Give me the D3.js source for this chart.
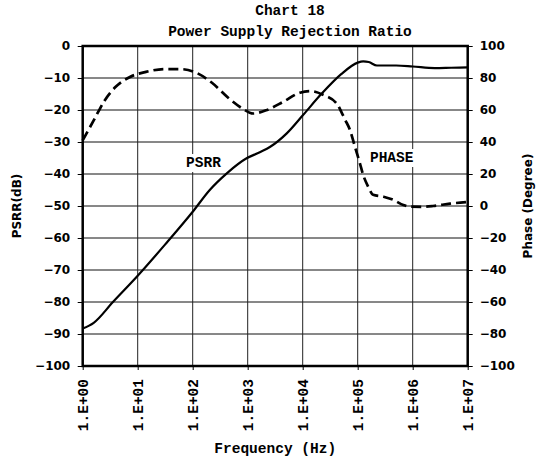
<!DOCTYPE html>
<html>
<head>
<meta charset="utf-8">
<script src="https://cdn.jsdelivr.net/npm/d3@7"></script>
<style>
    body { margin: 0; background: #fff; }
    .mono { font-family: "Liberation Mono", "Courier New", monospace; font-weight: bold; }
    .sans { font-family: "DejaVu Sans", Verdana, sans-serif; font-weight: bold; }
</style>
</head>
<body>
<div id="chart"></div>
<script>
// frequency points are stored as log10(Hz)
var psrrExp = [0, 0.2, 0.55, 1.0, 1.5, 2.0, 2.31, 2.62, 2.98, 3.22, 3.41, 3.71, 4.01, 4.35, 4.7, 5.0, 5.1, 5.2, 5.35, 5.7, 6.0, 6.4, 6.7, 7.0];
var psrrDb = [-88.3, -86.5, -80, -71.8, -62, -51.8, -45, -39.8, -35.1, -33.2, -31.5, -27.3, -21.5, -14.8, -8.8, -5.2, -4.8, -5.0, -6.1, -6.1, -6.4, -6.9, -6.8, -6.7];

var phaseExp = [0, 0.2, 0.4, 0.6, 0.85, 1.15, 1.5, 1.8, 2.07, 2.35, 2.65, 2.9, 3.1, 3.35, 3.65, 3.95, 4.15, 4.37, 4.62, 4.7, 4.77, 4.86, 4.95, 5.04, 5.1, 5.19, 5.28, 5.47, 5.65, 5.83, 5.95, 6.16, 6.37, 6.68, 7.0];
var phaseDeg = [41, 53.5, 66, 74.5, 80.5, 83.8, 85.6, 85.5, 83.2, 77, 67.5, 61, 57.8, 60, 65.2, 70.8, 71.8, 69.5, 64, 59, 54, 47.5, 37, 26.7, 19.4, 12.1, 7, 5.8, 3.8, 0.6, -0.4, -0.5, 0, 1.5, 2.5];

var freqTicks = [1, 10, 100, 1000, 10000, 100000, 1000000, 10000000];
var dbTicks = [0, -10, -20, -30, -40, -50, -60, -70, -80, -90, -100];
var degTicks = [100, 80, 60, 40, 20, 0, -20, -40, -60, -80, -100];

var width = 536, height = 459;
var plot = {left: 82.7, right: 467.7, top: 46, bottom: 366};

var svg = d3.select("#chart")
    .append("svg")
    .attr("width", width)
    .attr("height", height);

var x = d3.scaleLog()
    .domain([1, 1e7])
    .range([plot.left, plot.right]);

var yL = d3.scaleLinear()
    .domain([-100, 0])
    .range([plot.bottom, plot.top]);

var yR = d3.scaleLinear()
    .domain([-100, 100])
    .range([plot.bottom, plot.top]);

// grid lines
svg.append("g")
    .selectAll("line")
    .data(dbTicks)
    .enter()
    .append("line")
    .attr("x1", plot.left)
    .attr("x2", plot.right)
    .attr("y1", function (d) { return yL(d); })
    .attr("y2", function (d) { return yL(d); })
    .style("stroke", "#111")
    .style("stroke-width", 1);

svg.append("g")
    .selectAll("line")
    .data(freqTicks)
    .enter()
    .append("line")
    .attr("x1", function (d) { return x(d); })
    .attr("x2", function (d) { return x(d); })
    .attr("y1", plot.top)
    .attr("y2", plot.bottom)
    .style("stroke", "#222")
    .style("stroke-width", 1);

// left axis
var leftAxis = svg.append("g")
    .attr("class", "sans")
    .attr("transform", "translate(" + plot.left + ",0)")
    .call(d3.axisLeft(yL).tickValues(dbTicks).tickSize(5).tickPadding(7.5));
leftAxis.select(".domain").remove();
leftAxis.selectAll("text").style("font-size", "12px").style("font-family", "DejaVu Sans").style("font-weight", "bold").attr("fill", "#000");
leftAxis.selectAll("line").attr("stroke", "#000");

// right axis
var rightAxis = svg.append("g")
    .attr("transform", "translate(" + plot.right + ",0)")
    .call(d3.axisRight(yR).tickValues(degTicks).tickSize(5).tickPadding(7));
rightAxis.select(".domain").remove();
rightAxis.selectAll("text").style("font-size", "12px").style("font-family", "DejaVu Sans").style("font-weight", "bold").attr("fill", "#000");
rightAxis.selectAll("line").attr("stroke", "#000");

// bottom axis, labels like 1.E+03
var bottomAxis = svg.append("g")
    .attr("transform", "translate(0," + plot.bottom + ")")
    .call(d3.axisBottom(x)
        .tickValues(freqTicks)
        .tickSize(4)
        .tickFormat(function (d) {
            var e = Math.round(Math.log10(d));
            return "1.E+" + (e < 10 ? "0" + e : e);
        }));
bottomAxis.select(".domain").remove();
bottomAxis.selectAll("line").attr("stroke", "#000");
bottomAxis.selectAll("text")
    .attr("transform", "rotate(-90)")
    .attr("x", -13)
    .attr("y", 0)
    .attr("dy", "0.35em")
    .style("text-anchor", "end")
    .style("font-size", "14.5px")
    .style("font-family", "Liberation Mono")
    .style("font-weight", "bold")
    .attr("fill", "#000");

// plot frame
svg.append("rect")
    .attr("x", plot.left)
    .attr("y", plot.top)
    .attr("width", plot.right - plot.left)
    .attr("height", plot.bottom - plot.top)
    .style("fill", "none")
    .style("stroke", "#000")
    .style("stroke-width", 2.5);

// series
var psrr = psrrExp.map(function (e, i) { return {f: Math.pow(10, e), v: psrrDb[i]}; });
var phase = phaseExp.map(function (e, i) { return {f: Math.pow(10, e), v: phaseDeg[i]}; });

var psrrLine = d3.line()
    .x(function (d) { return x(d.f); })
    .y(function (d) { return yL(d.v); })
    .curve(d3.curveMonotoneX);

var phaseLine = d3.line()
    .x(function (d) { return x(d.f); })
    .y(function (d) { return yR(d.v); })
    .curve(d3.curveMonotoneX);

svg.append("path")
    .datum(phase)
    .attr("d", phaseLine)
    .style("fill", "none")
    .style("stroke", "#000")
    .style("stroke-width", 2.7)
    .style("stroke-dasharray", "10,5");

svg.append("path")
    .datum(psrr)
    .attr("d", psrrLine)
    .style("fill", "none")
    .style("stroke", "#000")
    .style("stroke-width", 2.2);

// series labels with white box behind them
function seriesLabel(txt, cx, baseline) {
    var g = svg.append("g");
    var t = g.append("text")
        .attr("class", "mono")
        .attr("x", cx)
        .attr("y", baseline)
        .style("text-anchor", "middle")
        .style("font-size", "14.5px")
        .text(txt);
    var bb = t.node().getBBox();
    g.insert("rect", "text")
        .attr("x", bb.x - 2)
        .attr("y", bb.y - 1)
        .attr("width", bb.width + 4)
        .attr("height", bb.height + 2)
        .style("fill", "#fff");
}
seriesLabel("PSRR", 203.5, 167);
seriesLabel("PHASE", 391.7, 162);

// titles
svg.append("text")
    .attr("class", "mono")
    .attr("x", 290)
    .attr("y", 15)
    .style("text-anchor", "middle")
    .style("font-size", "14.5px")
    .text("Chart 18");

svg.append("text")
    .attr("class", "mono")
    .attr("x", 290)
    .attr("y", 36)
    .style("text-anchor", "middle")
    .style("font-size", "14.5px")
    .text("Power Supply Rejection Ratio");

svg.append("text")
    .attr("class", "mono")
    .attr("x", (plot.left + plot.right) / 2)
    .attr("y", 453)
    .style("text-anchor", "middle")
    .style("font-size", "14.5px")
    .text("Frequency (Hz)");

// axis titles
svg.append("text")
    .attr("class", "sans")
    .attr("transform", "rotate(-90)")
    .attr("x", -(plot.top + plot.bottom) / 2)
    .attr("y", 21)
    .style("text-anchor", "middle")
    .style("font-size", "12px")
    .text("PSRR(dB)");

svg.append("text")
    .attr("class", "sans")
    .attr("transform", "rotate(-90)")
    .attr("x", -(plot.top + plot.bottom) / 2)
    .attr("y", 532)
    .style("text-anchor", "middle")
    .style("font-size", "12px")
    .text("Phase (Degree)");
</script>
</body>
</html>
